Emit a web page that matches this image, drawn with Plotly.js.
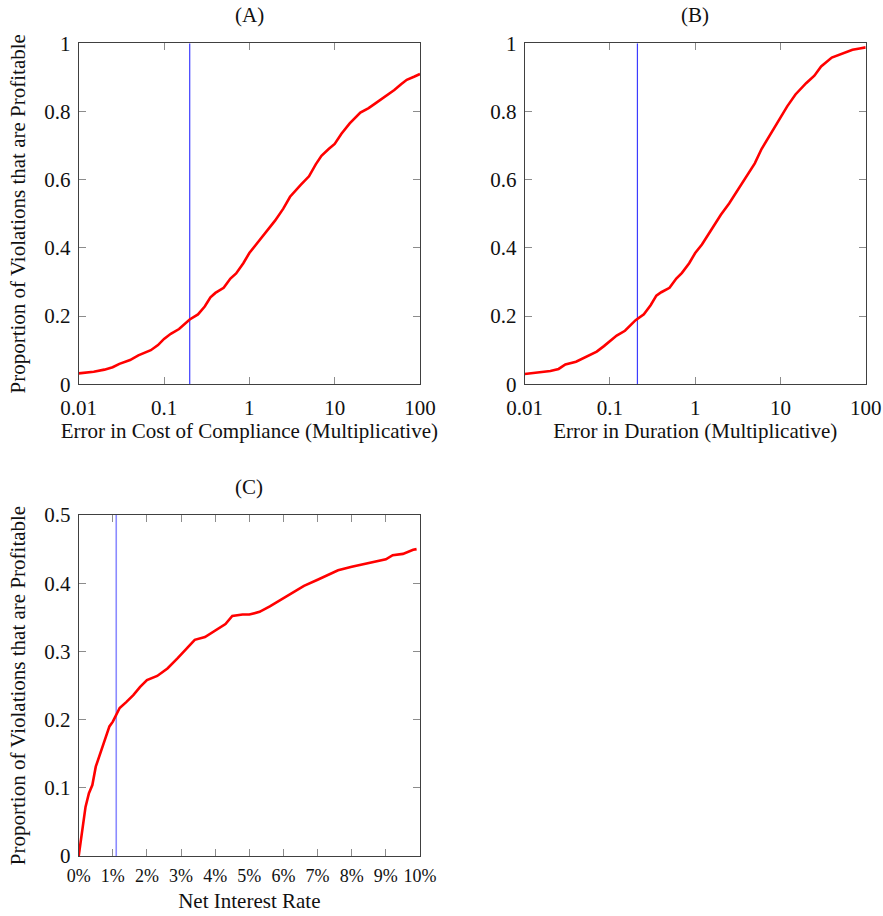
<!DOCTYPE html>
<html>
<head>
<meta charset="utf-8">
<script src="https://cdn.plot.ly/plotly-3.0.1.min.js"></script>
<style>html,body{margin:0;padding:0;background:#fff;}#chart{width:883px;height:916px;}</style>
</head>
<body>
<div id="chart"></div>
<script>
// Panel A: error in cost of compliance (multiplicative)
const costX = [0.01,0.015,0.02,0.025,0.03,0.04,0.05,0.06,0.07,0.085,0.1,0.12,0.15,0.2,0.25,0.3,0.35,0.4,0.5,0.6,0.7,0.85,1,1.2,1.5,2,2.5,3,4,5,6,7,8.5,10,12,15,20,25,30,40,50,60,70,85,100];
const costY = [0.032,0.037,0.043,0.050,0.060,0.071,0.085,0.092,0.100,0.115,0.133,0.148,0.162,0.190,0.205,0.228,0.255,0.268,0.283,0.310,0.325,0.355,0.385,0.410,0.440,0.480,0.515,0.550,0.585,0.610,0.645,0.670,0.690,0.705,0.735,0.765,0.797,0.810,0.824,0.845,0.863,0.880,0.893,0.902,0.910];

// Panel B: error in duration (multiplicative)
const durX = [0.01,0.015,0.02,0.025,0.03,0.04,0.05,0.06,0.07,0.085,0.1,0.12,0.15,0.2,0.25,0.3,0.35,0.4,0.5,0.6,0.7,0.85,1,1.2,1.5,2,2.5,3,4,5,6,7,8.5,10,12,15,20,25,30,40,50,60,70,85,100];
const durY = [0.030,0.035,0.039,0.045,0.058,0.066,0.078,0.090,0.096,0.112,0.127,0.143,0.157,0.188,0.205,0.232,0.260,0.270,0.283,0.310,0.327,0.355,0.385,0.410,0.448,0.497,0.530,0.560,0.610,0.648,0.690,0.717,0.755,0.782,0.815,0.850,0.883,0.905,0.932,0.958,0.967,0.975,0.981,0.985,0.988];

// Panel C: net interest rate (percent)
const rateX = [0,0.1,0.2,0.3,0.4,0.5,0.6,0.7,0.8,0.9,1.0,1.1,1.2,1.4,1.6,1.8,2.0,2.3,2.6,2.9,3.2,3.4,3.7,4.0,4.3,4.5,4.8,5.0,5.3,5.6,6.0,6.3,6.6,7.0,7.3,7.6,8.0,8.5,9.0,9.2,9.5,9.8,9.9];
const rateY = [0,0.038,0.072,0.092,0.104,0.131,0.146,0.160,0.175,0.190,0.197,0.207,0.217,0.226,0.236,0.248,0.258,0.264,0.275,0.290,0.307,0.317,0.321,0.331,0.340,0.352,0.354,0.354,0.358,0.366,0.378,0.388,0.396,0.405,0.412,0.419,0.424,0.429,0.435,0.441,0.443,0.449,0.450];

// Reference (vertical) lines
const refCost = [0.2];
const refDur = [0.21];
const refRate = [1.1];

// Tick labels
const logTickVals = [0.01,0.1,1,10,100];
const logTickText = ['0.01','0.1','1','10','100'];
const propTickVals = [0,0.2,0.4,0.6,0.8,1];
const propTickText = ['0','0.2','0.4','0.6','0.8','1'];
const rateTickVals = [0,1,2,3,4,5,6,7,8,9,10];
const rateTickText = ['0%','1%','2%','3%','4%','5%','6%','7%','8%','9%','10%'];
const rateYTickVals = [0,0.1,0.2,0.3,0.4,0.5];
const rateYTickText = ['0','0.1','0.2','0.3','0.4','0.5'];

const panelTitles = ['(A)','(B)','(C)'];
const xTitles = ['Error in Cost of Compliance (Multiplicative)','Error in Duration (Multiplicative)','Net Interest Rate'];
const yTitle = 'Proportion of Violations that are Profitable';

const W = 883, H = 916;
const FONT = 'Liberation Serif';
const FS = 21;
const red = 'rgb(255,0,0)';

function px(x){return x/W;}
function py(y){return 1 - y/H;}

const dom = {
  A: {x:[px(78.7),px(420)], y:[py(384.3),py(43.3)]},
  B: {x:[px(524.7),px(865.7)], y:[py(384.3),py(43.3)]},
  C: {x:[px(78.7),px(420)], y:[py(856),py(515)]}
};

function curve(x,y,xa,ya){
  return {x:x,y:y,xaxis:xa,yaxis:ya,type:'scatter',mode:'lines',line:{color:red,width:2.6},hoverinfo:'skip',showlegend:false};
}
function vline(v,xa,ya,yr,color,w){
  return {x:[v[0],v[0]],y:yr,xaxis:xa,yaxis:ya,type:'scatter',mode:'lines',line:{color:color,width:w},hoverinfo:'skip',showlegend:false};
}

const data = [
  vline(refCost,'x','y',[0,1],'rgb(60,60,255)',1.2),
  curve(costX,costY,'x','y'),
  vline(refDur,'x2','y2',[0,1],'rgb(60,60,255)',1.2),
  curve(durX,durY,'x2','y2'),
  vline(refRate,'x3','y3',[0,0.5],'rgba(110,110,255,0.8)',1.6),
  curve(rateX,rateY,'x3','y3')
];

const axBase = {
  showline:true, linecolor:'#404040', linewidth:1, mirror:'ticks',
  ticks:'inside', ticklen:7, tickcolor:'#8c8c8c', tickwidth:1,
  showgrid:false, zeroline:false, fixedrange:true, tickangle:0,
  tickfont:{family:FONT,size:FS,color:'#111'}, automargin:false
};
function xax(extra){return Object.assign({}, axBase, {ticklabelstandoff:4}, extra);}
function yax(extra){return Object.assign({}, axBase, {ticklabelstandoff:3}, extra);}

const layout = {
  width:W, height:H,
  margin:{l:0,r:0,t:0,b:0},
  paper_bgcolor:'#fff', plot_bgcolor:'#fff',
  font:{family:FONT,size:FS,color:'#111'},
  xaxis: xax({type:'log', range:[-2,2], domain:dom.A.x, anchor:'y', tickvals:logTickVals, ticktext:logTickText,
    title:{text:xTitles[0], font:{family:FONT,size:FS}, standoff:1}}),
  yaxis: yax({range:[0,1], domain:dom.A.y, anchor:'x', tickvals:propTickVals, ticktext:propTickText,
    title:{text:yTitle, font:{family:FONT,size:FS}, standoff:12}}),
  xaxis2: xax({type:'log', range:[-2,2], domain:dom.B.x, anchor:'y2', tickvals:logTickVals, ticktext:logTickText,
    title:{text:xTitles[1], font:{family:FONT,size:FS}, standoff:1}}),
  yaxis2: yax({range:[0,1], domain:dom.B.y, anchor:'x2', tickvals:propTickVals, ticktext:propTickText}),
  xaxis3: xax({range:[0,10], domain:dom.C.x, anchor:'y3', tickvals:rateTickVals, ticktext:rateTickText,
    tickfont:{family:FONT,size:18,color:'#111'}, ticklabelstandoff:3,
    title:{text:xTitles[2], font:{family:FONT,size:FS}, standoff:8}}),
  yaxis3: yax({range:[0,0.5], domain:dom.C.y, anchor:'x3', tickvals:rateYTickVals, ticktext:rateYTickText,
    title:{text:yTitle, font:{family:FONT,size:FS}, standoff:12}}),
  annotations: [
    {text:panelTitles[0], xref:'x domain', yref:'paper', x:0.5, y:py(15), xanchor:'center', yanchor:'middle', showarrow:false, font:{family:FONT,size:FS}},
    {text:panelTitles[1], xref:'x2 domain', yref:'paper', x:0.5, y:py(15), xanchor:'center', yanchor:'middle', showarrow:false, font:{family:FONT,size:FS}},
    {text:panelTitles[2], xref:'x3 domain', yref:'paper', x:0.5, y:py(487), xanchor:'center', yanchor:'middle', showarrow:false, font:{family:FONT,size:FS}}
  ]
};

Plotly.newPlot('chart', data, layout, {staticPlot:true, displayModeBar:false});
</script>
</body>
</html>
